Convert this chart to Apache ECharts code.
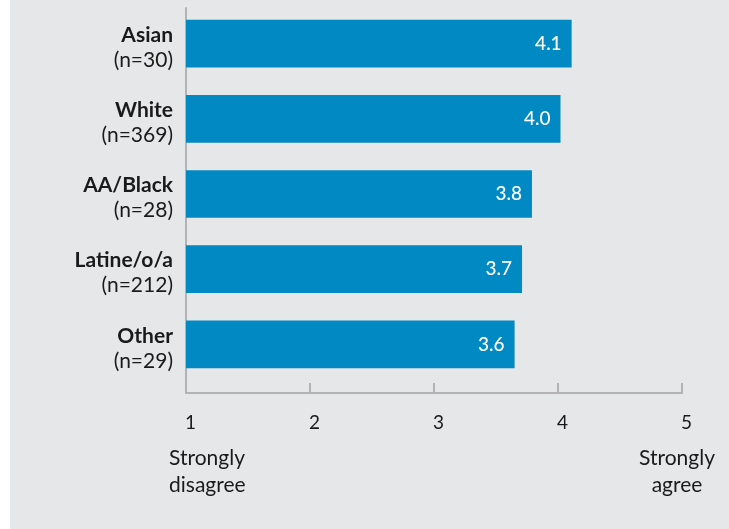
<!DOCTYPE html>
<html>
<head>
<meta charset="utf-8">
<script src="https://cdn.jsdelivr.net/npm/echarts@6/dist/echarts.min.js"></script>
<style>
  html, body { margin: 0; padding: 0; background: #ffffff; }
  #chart { position: absolute; left: 10px; top: 0; width: 719px; height: 529px; }
</style>
</head>
<body>
<div id="chart"></div>
<script>
// data
const groups = ['Asian', 'White', 'AA/Black', 'Latine/o/a', 'Other'];
const counts = ['(n=30)', '(n=369)', '(n=28)', '(n=212)', '(n=29)'];
const means = [4.11, 4.02, 3.79, 3.71, 3.65];
const meanLabels = ['4.1', '4.0', '3.8', '3.7', '3.6'];
const scaleTicks = [1, 2, 3, 4, 5];

const font = 'Lato, "Noto Sans", sans-serif';
const textColor = '#1a1a1a';
const axisGray = '#b3b3b5';

const myChart = echarts.init(document.getElementById('chart'));

const option = {
  backgroundColor: '#e6e7e9',
  textStyle: { fontFamily: font },
  grid: [
    // bars
    { left: 176, right: 47, top: 6, bottom: 147 },
    // visible axis frame
    { left: 176, right: 47, top: 8, bottom: 136 }
  ],
  xAxis: [
    {
      gridIndex: 0, type: 'value', min: 1, max: 5,
      axisLine: { show: false }, axisTick: { show: false },
      axisLabel: { show: false }, splitLine: { show: false }
    },
    {
      gridIndex: 1, type: 'value', min: 1, max: 5, interval: 1,
      axisLine: { show: true, lineStyle: { color: axisGray, width: 2 } },
      axisTick: { show: true, inside: true, length: 10, lineStyle: { color: axisGray, width: 2 } },
      axisLabel: {
        color: textColor, fontSize: 19, margin: 20, fontFamily: font,
        padding: [0, 0, 0, 9],
        formatter: v => scaleTicks.indexOf(v) > -1 ? String(v) : ''
      },
      splitLine: { show: false }
    }
  ],
  yAxis: [
    {
      gridIndex: 0, type: 'category', inverse: true,
      data: groups,
      axisLine: { show: false }, axisTick: { show: false },
      axisLabel: {
        margin: 13,
        align: 'right',
        padding: [8, 0, 0, 0],
        formatter: (v, i) => '{b|' + v + '}\n{n|' + counts[i] + '}',
        rich: {
          b: { fontSize: 21, fontWeight: 'bold', color: textColor, lineHeight: 25, fontFamily: font, align: 'right' },
          n: { fontSize: 21, color: textColor, lineHeight: 25, fontFamily: font, align: 'right' }
        }
      }
    },
    {
      gridIndex: 1, type: 'value',
      axisLine: { show: true, onZero: false, lineStyle: { color: axisGray, width: 2 } },
      axisTick: { show: false }, axisLabel: { show: false }, splitLine: { show: false }
    }
  ],
  series: [
    {
      type: 'bar',
      xAxisIndex: 0, yAxisIndex: 0,
      data: means,
      barCategoryGap: '36.6%',
      itemStyle: { color: '#0089c2' },
      label: {
        show: true,
        position: 'insideRight',
        distance: 10,
        color: '#ffffff',
        fontSize: 19,
        fontWeight: 500,
        fontFamily: font,
        formatter: p => meanLabels[p.dataIndex]
      },
      silent: true
    }
  ],
  graphic: [
    {
      type: 'text', x: 159, y: 445,
      style: { text: 'Strongly\ndisagree', fill: textColor, font: '21px ' + font, lineHeight: 27, align: 'left' }
    },
    {
      type: 'text', x: 667, y: 445,
      style: { text: 'Strongly\nagree', fill: textColor, font: '21px ' + font, lineHeight: 27, align: 'center' }
    }
  ]
};

myChart.setOption(option);
</script>
</body>
</html>
